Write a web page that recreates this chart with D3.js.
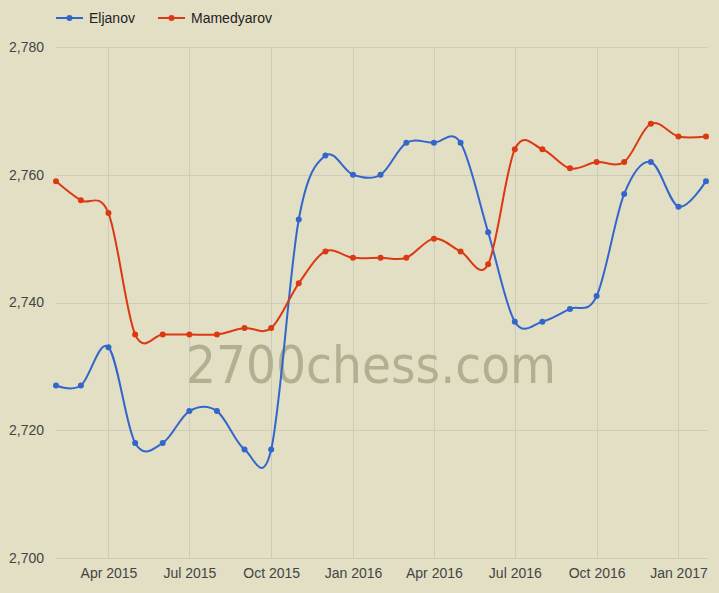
<!DOCTYPE html>
<html><head><meta charset="utf-8">
<script src="https://cdn.jsdelivr.net/npm/d3@7/dist/d3.min.js"></script>
<style>
html,body{margin:0;padding:0;background:#e2dfc5;}
svg{display:block;font-family:Arial,"Liberation Sans",sans-serif;}
</style></head><body>
<svg id="chart" width="719" height="593"></svg>
<script>
const months = ["2015-02","2015-03","2015-04","2015-05","2015-06","2015-07","2015-08","2015-09","2015-10","2015-11","2015-12",
"2016-01","2016-02","2016-03","2016-04","2016-05","2016-06","2016-07","2016-08","2016-09","2016-10","2016-11","2016-12",
"2017-01","2017-02"];
const eljanov = [2727,2727,2733,2718,2718,2723,2723,2717,2717,2753,2763,2760,2760,2765,2765,2765,2751,2737,2737,2739,2741,2757,2762,2755,2759];
const mamedyarov = [2759,2756,2754,2735,2735,2735,2735,2736,2736,2743,2748,2747,2747,2747,2750,2748,2746,2764,2764,2761,2762,2762,2768,2766,2766];
const seriesNames = ["Eljanov","Mamedyarov"];
const seriesColors = ["#3366cc","#dc3912"];
const yTicks = [2700,2720,2740,2760,2780];
const xTickDates = ["2015-04","2015-07","2015-10","2016-01","2016-04","2016-07","2016-10","2017-01"];

(function(){
const parse = d3.timeParse("%Y-%m");
const dates = months.map(parse);
const svg = d3.select("#chart");
svg.append("rect").attr("width",719).attr("height",593).attr("fill","#e2dfc5");

const pL = 56, pR = 706, pT = 47, pB = 558;
const x = d3.scaleTime().domain([dates[0], dates[dates.length-1]]).range([pL, pR]);
const y = d3.scaleLinear().domain([2700,2780]).range([pB, pT]);

// grid
const g = svg.append("g");
g.selectAll("line.h").data(yTicks).join("line")
  .attr("x1", pL).attr("x2", 708).attr("y1", d=>Math.round(y(d))+0.5).attr("y2", d=>Math.round(y(d))+0.5)
  .attr("stroke","#cccbbd").attr("stroke-width",1);
g.selectAll("line.v").data(xTickDates.map(parse)).join("line")
  .attr("x1", d=>Math.round(x(d))+0.5).attr("x2", d=>Math.round(x(d))+0.5).attr("y1", pT).attr("y2", pB)
  .attr("stroke","#cccbbd").attr("stroke-width",1);

// axes labels
const yAxis = d3.axisLeft(y).tickValues(yTicks).tickFormat(d3.format(",")).tickSize(0).tickPadding(12);
const ya = svg.append("g").attr("transform",`translate(${pL},0)`).call(yAxis);
ya.select(".domain").remove();
ya.selectAll("text").attr("font-size",14).attr("fill","#444").attr("font-family","Arial,'Liberation Sans',sans-serif");

const fmt = d3.timeFormat("%b %Y");
const xAxis = d3.axisBottom(x).tickValues(xTickDates.map(parse)).tickFormat(fmt).tickSize(0).tickPadding(10);
const xa = svg.append("g").attr("transform",`translate(0,${pB})`).call(xAxis);
xa.select(".domain").remove();
xa.selectAll("text").attr("font-size",14).attr("fill","#444").attr("font-family","Arial,'Liberation Sans',sans-serif");

// watermark
svg.append("text").attr("x",186).attr("y",383).text("2700chess.com")
  .attr("font-family","'DejaVu Sans',Verdana,sans-serif").attr("font-size",51)
  .attr("textLength",370).attr("lengthAdjust","spacingAndGlyphs")
  .attr("fill","#b3b092");

// lines
const allSeries = [eljanov, mamedyarov];
const line = d3.line().x((d,i)=>x(dates[i])).y(d=>y(d)).curve(d3.curveCardinal.tension(0));
allSeries.forEach((s,k)=>{
  svg.append("path").datum(s).attr("d",line).attr("fill","none")
    .attr("stroke",seriesColors[k]).attr("stroke-width",2);
  svg.append("g").selectAll("circle").data(s).join("circle")
    .attr("cx",(d,i)=>x(dates[i])).attr("cy",d=>y(d)).attr("r",3).attr("fill",seriesColors[k]);
});

// legend
const legX = [56, 158];
seriesNames.forEach((n,k)=>{
  const lg = svg.append("g").attr("transform",`translate(${legX[k]},18)`);
  lg.append("line").attr("x1",0).attr("x2",27).attr("y1",0).attr("y2",0).attr("stroke",seriesColors[k]).attr("stroke-width",2);
  lg.append("circle").attr("cx",13.5).attr("cy",0).attr("r",3).attr("fill",seriesColors[k]);
  lg.append("text").attr("x",33).attr("y",5).text(n).attr("font-size",14).attr("fill","#222");
});
})();
</script>
</body></html>
